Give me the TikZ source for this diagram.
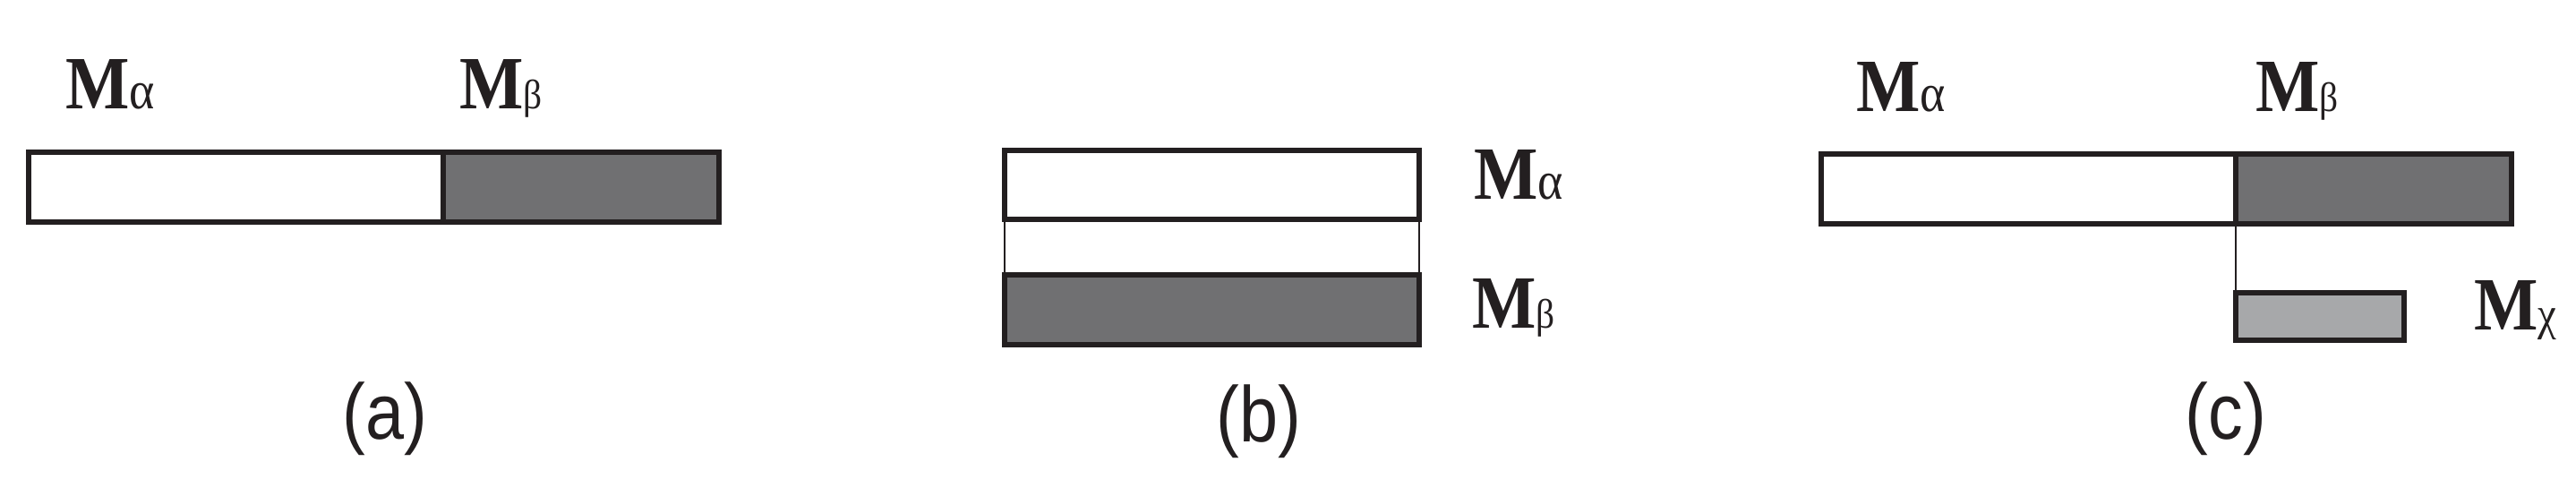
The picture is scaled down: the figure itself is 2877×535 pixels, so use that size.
\documentclass[tikz,border=0pt]{standalone}
\usepackage{fontspec}
\setmainfont{Liberation Serif}
\newfontfamily\capfont{Liberation Sans}
\definecolor{ink}{HTML}{231F20}
\definecolor{darkfill}{HTML}{707072}
\definecolor{lightfill}{HTML}{A7A8AA}
\tikzset{
  bar/.style={rectangle, draw=ink, line width=3pt, inner sep=0pt, outer sep=0pt},
  whitebar/.style={bar, fill=white},
  darkbar/.style={bar, fill=darkfill},
  lightbar/.style={bar, fill=lightfill},
  thinlink/.style={draw=ink, line width=1.3pt},
  mlabel/.style={anchor=base west, inner sep=0pt, xscale=0.9, text=ink},
  caption/.style={anchor=base, inner sep=0pt, xscale=0.88, text=ink, font=\capfont\fontsize{44}{44}\selectfont},
}
\newcommand{\Mlab}[2]{{\fontsize{42}{42}\selectfont\bfseries M}{\fontsize{#2}{#2}\selectfont #1}}
\begin{document}
\begin{tikzpicture}[x=0.5pt, y=-0.5pt]
\useasboundingbox (0,0) rectangle (2877,535);
% ---------- (a)
\node[whitebar, minimum width=231.75pt, minimum height=39pt] (aA) at (263.25,209) {};
\node[darkbar, minimum width=154pt, minimum height=39pt] (aB) at (649,209) {};
\node[mlabel] (aMa) at (73,122) {\Mlab{α}{30}};
\node[mlabel] (aMb) at (513,122) {\Mlab{β}{23}};
\node[caption] (capa) at (430,490) {(a)};
% ---------- (b)
\node[whitebar, minimum width=231.5pt, minimum height=38.5pt] (bA) at (1353.5,206.5) {};
\node[darkbar, minimum width=231.5pt, minimum height=39pt] (bB) at (1353.5,346) {};
\draw[thinlink] (bA.south east) -- (bB.north east);
\draw[thinlink] (bA.south west) -- (bB.north west);
\node[mlabel] (bMa) at (1646,222) {\Mlab{α}{30}};
\node[mlabel] (bMb) at (1644,366) {\Mlab{β}{23}};
\node[caption] (capb) at (1406,493) {(b)};
% ---------- (c)
\node[whitebar, minimum width=231.5pt, minimum height=39pt] (cA) at (2265.5,211) {};
\node[darkbar, minimum width=154pt, minimum height=39pt] (cB) at (2651,211) {};
\node[lightbar, minimum width=94pt, minimum height=26.5pt] (cC) at (2591,353.5) {};
\draw[thinlink] (cB.south west) -- (cC.north west);
\node[mlabel] (cMa) at (2073,125) {\Mlab{α}{30}};
\node[mlabel] (cMb) at (2519,125) {\Mlab{β}{23}};
\node[mlabel] (cMc) at (2763,368) {\Mlab{χ}{26}};
\node[caption] (capc) at (2486,490) {(c)};
\end{tikzpicture}
\end{document}
